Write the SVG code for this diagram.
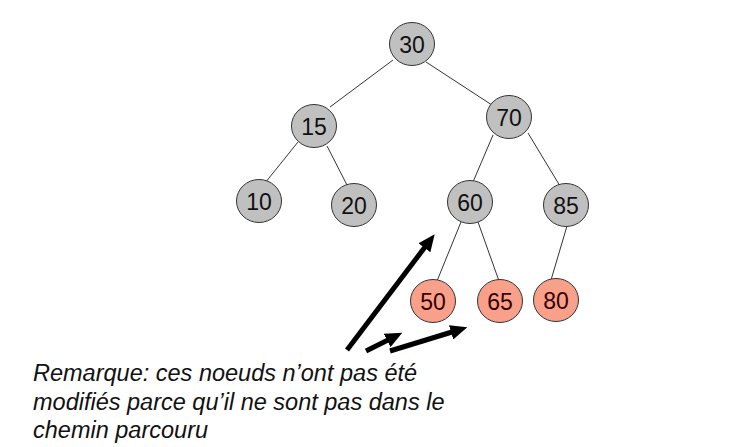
<svg xmlns="http://www.w3.org/2000/svg" width="730" height="447" viewBox="0 0 730 447">
<style>
.g{fill:#c0c0c0;stroke:#333;stroke-width:1}
.r{fill:#f9a08a;stroke:#333;stroke-width:1}
.t{font-family:"Liberation Sans",Arial,sans-serif;font-size:23px;fill:#111;text-anchor:middle}
.tr{fill:#300}
.e{stroke:#333;stroke-width:1;fill:none}
.a{stroke:#000;stroke-width:5;fill:none}
.n{font-family:"Liberation Sans",Arial,sans-serif;font-size:23.5px;font-style:italic;fill:#111}
</style>
<defs>
<marker id="ah" markerWidth="3.4" markerHeight="3" refX="0.2" refY="1.5" orient="auto" markerUnits="strokeWidth">
<path d="M0,0 L3.4,1.5 L0,3 Z" fill="#000"/>
</marker>
</defs>
<rect width="730" height="447" fill="#fff"/>
<g id="connectors">
<line class="e" x1="393" y1="60" x2="330" y2="107"/>
<line class="e" x1="426" y1="62" x2="495" y2="107"/>
<line class="e" x1="298" y1="142" x2="265" y2="183"/>
<line class="e" x1="327" y1="146" x2="347" y2="185"/>
<line class="e" x1="493" y1="135" x2="473" y2="182"/>
<line class="e" x1="528" y1="133" x2="560" y2="186"/>
<line class="e" x1="461" y1="222" x2="437" y2="281"/>
<line class="e" x1="478" y1="222" x2="499" y2="281"/>
<line class="e" x1="567" y1="226" x2="551" y2="280"/>
<line class="a" x1="347" y1="350" x2="425" y2="247" marker-end="url(#ah)"/>
<line class="a" x1="366" y1="351" x2="388" y2="340" marker-end="url(#ah)"/>
<line class="a" x1="390" y1="351" x2="452" y2="332" marker-end="url(#ah)"/>
</g>
<g id="n30"><ellipse class="g" cx="412" cy="44" rx="22.5" ry="21.5"/><text class="t" x="412" y="52.5">30</text></g>
<g id="n15"><ellipse class="g" cx="314" cy="126" rx="22.5" ry="21.5"/><text class="t" x="314" y="134.5">15</text></g>
<g id="n70"><ellipse class="g" cx="509" cy="117" rx="22.5" ry="21.5"/><text class="t" x="509" y="125.5">70</text></g>
<g id="n10"><ellipse class="g" cx="259" cy="201" rx="22.5" ry="21.5"/><text class="t" x="259" y="209.5">10</text></g>
<g id="n20"><ellipse class="g" cx="354" cy="205" rx="22.5" ry="21.5"/><text class="t" x="354" y="213.5">20</text></g>
<g id="n60"><ellipse class="g" cx="470" cy="202" rx="22.5" ry="21.5"/><text class="t" x="470" y="210.5">60</text></g>
<g id="n85"><ellipse class="g" cx="566" cy="205" rx="22.5" ry="21.5"/><text class="t" x="566" y="213.5">85</text></g>
<g id="n50"><ellipse class="r" cx="433" cy="301" rx="22.5" ry="21.5"/><text class="t tr" x="433" y="309.5">50</text></g>
<g id="n65"><ellipse class="r" cx="500" cy="301" rx="22.5" ry="21.5"/><text class="t tr" x="500" y="309.5">65</text></g>
<g id="n80"><ellipse class="r" cx="556" cy="300" rx="22.5" ry="21.5"/><text class="t tr" x="556" y="308.5">80</text></g>
<g id="note">
<text class="n" x="33" y="381">Remarque: ces noeuds n’ont pas été</text>
<text class="n" x="33" y="410">modifiés parce qu’il ne sont pas dans le</text>
<text class="n" x="33" y="438">chemin parcouru</text>
</g>
</svg>
